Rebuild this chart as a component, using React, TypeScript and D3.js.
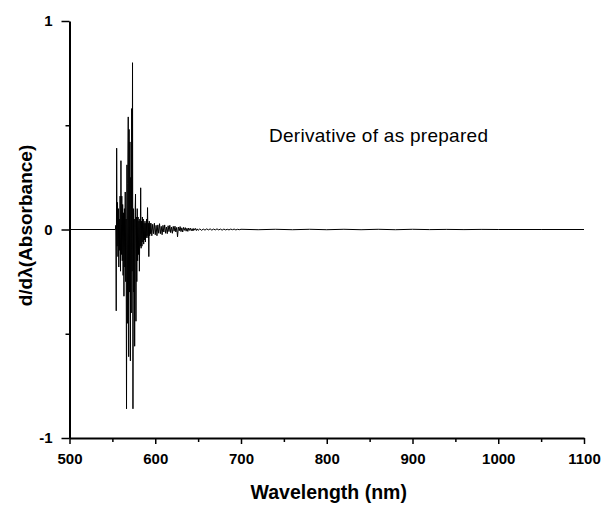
import { useEffect, useRef } from "react";
import * as d3 from "d3";

// axis ticks
const xTicks = [500, 600, 700, 800, 900, 1000, 1100];
const xMinorTicks = [550, 650, 750, 850, 950, 1050];
const yTicks = [-1, 0, 1];
const yMinorTicks = [-0.5, 0.5];

// flat part before the signal starts
const leadIn: [number, number][] = [
  [500, 0],
  [553.5, 0],
];

// strong oscillating part (wavelength nm, value)
const burst: [number, number][] = [
  [554.0, 0.02], [554.5, -0.39], [555.0, 0.39], [555.5, -0.08], [556.0, 0.13],
  [556.5, -0.13], [557.0, 0.1], [557.5, -0.18], [558.0, 0.05], [558.5, -0.1],
  [559.0, 0.16], [559.5, -0.2], [560.0, 0.33], [560.5, -0.12], [561.0, 0.16],
  [561.5, -0.15], [562.0, 0.12], [562.5, -0.22], [563.0, 0.08], [563.5, -0.32],
  [564.0, 0.1], [564.5, -0.18], [565.0, 0.18], [565.5, -0.25], [566.0, 0.05],
  [566.5, -0.86], [567.0, 0.31], [567.5, -0.45], [568.0, 0.22], [568.5, 0.54],
  [569.0, -0.61], [569.5, 0.48], [570.0, -0.3], [570.5, 0.42], [571.0, -0.63],
  [571.5, 0.25], [572.0, -0.4], [572.5, 0.58], [573.0, -0.2], [573.5, 0.8],
  [574.0, -0.86], [574.5, 0.1], [575.0, -0.3], [575.5, 0.05], [576.0, -0.56],
  [576.5, 0.08], [577.0, 0.17], [577.5, -0.44], [578.0, 0.06], [578.5, -0.25],
  [579.0, 0.1], [579.5, -0.15], [580.0, 0.06], [580.5, -0.12], [581.0, 0.04],
  [581.5, -0.2], [582.0, 0.05], [582.5, -0.08], [583.0, 0.2], [583.5, -0.09],
  [584.0, 0.04], [584.5, -0.08], [585.0, 0.06], [585.5, -0.06], [586.0, 0.05],
  [586.5, -0.07], [587.0, 0.03], [587.5, -0.05], [588.0, 0.04], [588.5, -0.06],
  [589.0, 0.03], [589.5, -0.04], [590.0, 0.05], [590.5, -0.03], [591.0, 0.105],
  [591.5, -0.04], [592.0, 0.03], [592.5, -0.13], [593.0, 0.04], [593.5, -0.03],
  [594.0, 0.03], [594.5, -0.02], [595.0, 0.03],
];

// decaying tail
const tail: [number, number][] = [
  [596, -0.03], [597, 0.025], [598, -0.02], [599, 0.03], [600, -0.025],
  [601, 0.02], [602, -0.03], [603, 0.022], [604, -0.018], [605, 0.028],
  [606, -0.02], [607, 0.015], [608, -0.025], [609, 0.02], [610, -0.012],
  [611, 0.022], [612, -0.018], [613, 0.012], [614, -0.02], [615, 0.018],
  [616, -0.01], [617, 0.02], [618, -0.015], [619, 0.012], [620, -0.018],
  [621, 0.015], [622, -0.008], [623, 0.016], [624, -0.012], [625, 0.01],
  [626, -0.035], [627, 0.012], [628, -0.006], [629, 0.014], [630, -0.01],
  [631, 0.008], [632, -0.012], [633, 0.01], [634, -0.004], [635, 0.009],
  [636, -0.008], [637, 0.006], [638, -0.009], [639, 0.007], [640, -0.004],
  [641, 0.006], [642, -0.006], [643, 0.004], [644, -0.007], [645, 0.005],
  [646, -0.003], [647, 0.005], [648, -0.005], [649, 0.003], [650, -0.004],
  [652, 0.003], [654, -0.004], [656, 0.002], [658, -0.003], [660, 0.003],
  [662, -0.002], [664, 0.003], [666, -0.003], [668, 0.002], [670, -0.002],
  [672, 0.003], [674, -0.002], [676, 0.002], [678, -0.003], [680, 0.002],
  [682, -0.002], [684, 0.001], [686, -0.002], [688, 0.002], [690, -0.001],
  [692, 0.002], [694, -0.002], [696, 0.001], [698, -0.001], [700, 0.001],
];

// nearly flat remainder
const farTail: [number, number][] = [
  [720, -0.001], [740, 0.001], [760, -0.001], [780, 0.001], [800, -0.001],
  [820, 0.001], [840, -0.001], [860, 0.001], [880, -0.001], [900, 0.001],
  [920, -0.0005], [940, 0.0005], [960, -0.0005], [980, 0.0005], [1000, 0],
  [1050, 0], [1100, 0],
];

const FONT = "'Liberation Sans', Arial, sans-serif";

export default function App() {
  const svgRef = useRef<SVGSVGElement>(null);

  useEffect(() => {
    const width = 603;
    const height = 507;
    const margin = { top: 21, right: 19, bottom: 69, left: 69.5 };

    const svg = d3.select(svgRef.current);
    svg.selectAll("*").remove();

    const x = d3
      .scaleLinear()
      .domain([500, 1100])
      .range([margin.left, width - margin.right]);

    const y = d3
      .scaleLinear()
      .domain([-1, 1])
      .range([height - margin.bottom, margin.top]);

    const data = [...leadIn, ...burst, ...tail, ...farTail];

    // trace
    const line = d3
      .line<[number, number]>()
      .x((d) => x(d[0]))
      .y((d) => y(d[1]));

    svg
      .append("path")
      .datum(data)
      .attr("d", line)
      .attr("fill", "none")
      .attr("stroke", "#000")
      .attr("stroke-width", 1);

    // X axis
    const xAxis = svg
      .append("g")
      .attr("transform", `translate(0,${y(-1)})`)
      .call(
        d3
          .axisBottom(x)
          .tickValues(xTicks)
          .tickSize(6)
          .tickSizeOuter(0)
          .tickPadding(9)
          .tickFormat((d) => String(d))
      );
    svg
      .append("g")
      .attr("transform", `translate(0,${y(-1)})`)
      .call(
        d3
          .axisBottom(x)
          .tickValues(xMinorTicks)
          .tickSize(4)
          .tickFormat(() => "")
      )
      .call((g) => g.select(".domain").remove());

    // Y axis
    const yAxis = svg
      .append("g")
      .attr("transform", `translate(${x(500)},0)`)
      .call(
        d3
          .axisLeft(y)
          .tickValues(yTicks)
          .tickSize(8)
          .tickSizeOuter(0)
          .tickPadding(9)
          .tickFormat((d) => String(d))
      );
    svg
      .append("g")
      .attr("transform", `translate(${x(500)},0)`)
      .call(
        d3
          .axisLeft(y)
          .tickValues(yMinorTicks)
          .tickSize(4)
          .tickFormat(() => "")
      )
      .call((g) => g.select(".domain").remove());

    [xAxis, yAxis].forEach((g) => {
      g.select(".domain").attr("stroke", "#000").attr("stroke-width", 2);
      g.selectAll("text")
        .attr("font-family", FONT)
        .attr("font-size", 15)
        .attr("font-weight", "bold")
        .attr("fill", "#000");
    });
    svg.selectAll(".tick line").attr("stroke", "#000").attr("stroke-width", 1.5);

    // axis titles
    svg
      .append("text")
      .attr("x", (x(500) + x(1100)) / 2 + 2)
      .attr("y", 499)
      .attr("text-anchor", "middle")
      .attr("font-family", FONT)
      .attr("font-size", 19.5)
      .attr("font-weight", "bold")
      .text("Wavelength (nm)");

    svg
      .append("text")
      .attr("transform", `translate(32,${y(0) - 4}) rotate(-90)`)
      .attr("text-anchor", "middle")
      .attr("font-family", FONT)
      .attr("font-size", 19)
      .attr("font-weight", "bold")
      .text("d/d\u03bb(Absorbance)");

    // annotation
    svg
      .append("text")
      .attr("x", 269)
      .attr("y", 141.5)
      .attr("font-family", FONT)
      .attr("font-size", 19)
      .attr("textLength", 219)
      .attr("fill", "#000")
      .text("Derivative of as prepared");
  }, []);

  return (
    <svg
      ref={svgRef}
      width={603}
      height={507}
      style={{ position: "absolute", left: 0, top: 0, background: "#fff" }}
    />
  );
}
